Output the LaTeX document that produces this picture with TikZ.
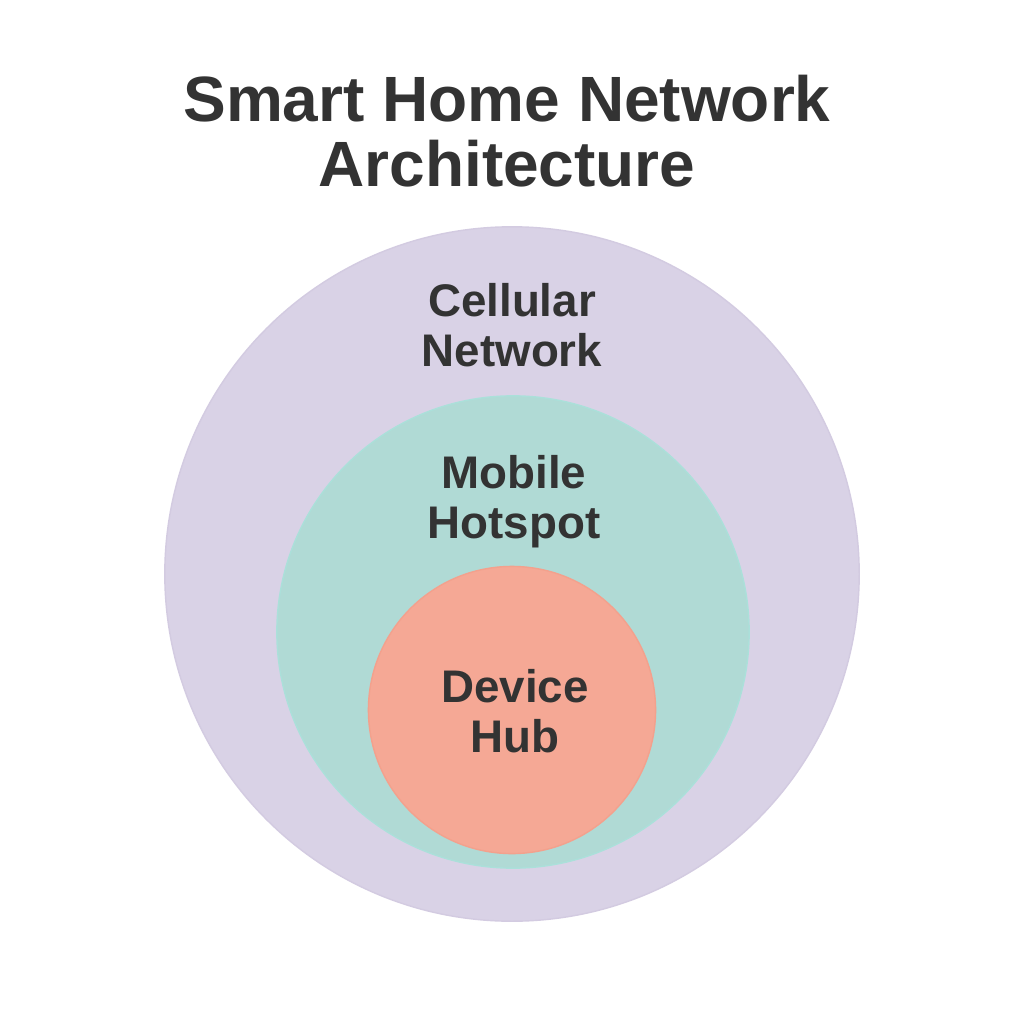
\documentclass[tikz,border=0pt]{standalone}
\usepackage{fontspec}
\setmainfont{Liberation Sans}
\usepackage{tikz}
\usetikzlibrary{positioning}

\definecolor{cellfill}{HTML}{D9D2E6}
\definecolor{celledge}{HTML}{D3CBE1}
\definecolor{hotfill}{HTML}{B0DAD5}
\definecolor{hotedge}{HTML}{ABE0DA}
\definecolor{hubfill}{HTML}{F5A895}
\definecolor{hubedge}{HTML}{F3A18D}
\definecolor{inktext}{HTML}{333333}

\begin{document}
\begin{tikzpicture}[x=0.01cm,y=-0.01cm,
		ring/.style={circle,inner sep=0pt,line width=0.4pt},
		ringlabel/.style={align=center,text=inktext,font=\fontsize{13}{14.2}\selectfont\bfseries},
		titlelabel/.style={align=center,text=inktext,font=\fontsize{18.2}{18.6}\selectfont\bfseries}]
			\useasboundingbox[fill=white] (0,0) rectangle (1024,1024); % page frame
			% title
			\node[titlelabel] (title) at (507,131) {Smart Home Network\\Architecture};
			% nested rings, largest first
			\node[ring,fill=cellfill,draw=celledge,minimum size=6.94cm] (cellular) at (512,574) {};
			\node[ring,fill=hotfill,draw=hotedge,minimum size=4.72cm] (hotspot) at (513,632) {};
			\node[ring,fill=hubfill,draw=hubedge,minimum size=2.87cm] (hub) at (512,710) {};
			% ring labels
			\node[ringlabel] (cellularlabel) at (512,325) {Cellular\\Network};
			\node[ringlabel] (hotspotlabel) at (514,502) {Mobile\\Hotspot};
			\node[ringlabel] (hublabel) at (515,711) {Device\\Hub};
		\end{tikzpicture}
\end{document}
